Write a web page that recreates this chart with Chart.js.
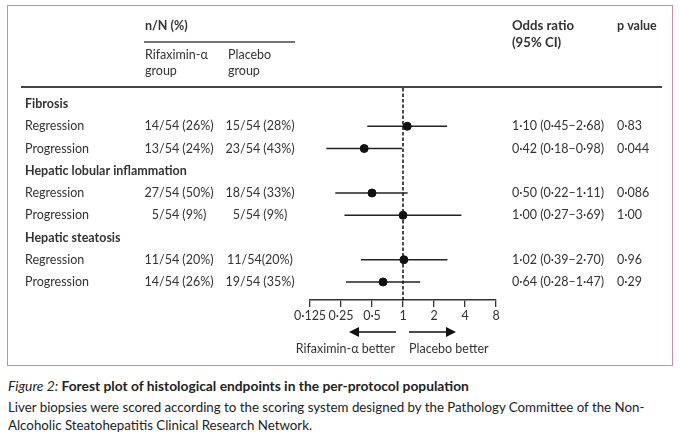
<!DOCTYPE html>
<html><head><meta charset="utf-8">
<script src="https://cdn.jsdelivr.net/npm/chart.js@4.4.0/dist/chart.umd.min.js"></script>
<style>
html,body{margin:0;padding:0;background:#fff;width:680px;height:437px;overflow:hidden;}
#frame{position:absolute;left:7px;top:5px;width:664px;height:359px;border:1.5px solid #c98ea4;box-sizing:content-box;}
#wrap{position:absolute;left:0;top:0;width:680px;height:370px;}
#cap{position:absolute;left:8px;top:377px;width:672px;font-family:Lato,sans-serif;font-size:13.3px;line-height:18px;color:#222;white-space:nowrap;}
#cap .t{font-size:13.8px;font-weight:700;margin-bottom:3px;}
#cap .t i{font-weight:400;}
</style></head><body>
<div id="frame"></div>
<div id="wrap"><canvas id="c"></canvas></div>
<div id="cap"><div class="t"><i>Figure 2:</i> Forest plot of histological endpoints in the per-protocol population</div>Liver biopsies were scored according to the scoring system designed by the Pathology Committee of the Non-<br>Alcoholic Steatohepatitis Clinical Research Network.</div>
<script>
// ---- data ----
const rowLabels = ['Fibrosis','Regression','Progression','Hepatic lobular inflammation','Regression','Progression','Hepatic steatosis','Regression','Progression'];
const isHeading = [true,false,false,true,false,false,true,false,false];
const rifaximinGroup = ['','14/54 (26%)','13/54 (24%)','','27/54 (50%)','5/54 (9%)','','11/54 (20%)','14/54 (26%)'];
const placeboGroup = ['','15/54 (28%)','23/54 (43%)','','18/54 (33%)','5/54 (9%)','','11/54(20%)','19/54 (35%)'];
const oddsRatio = [null,1.10,0.42,null,0.50,1.00,null,1.02,0.64];
const ciLow = [null,0.45,0.18,null,0.22,0.27,null,0.39,0.28];
const ciHigh = [null,2.68,0.98,null,1.11,3.69,null,2.70,1.47];
const pValues = ['','0·83','0·044','','0·086','1·00','','0·96','0·29'];
const tickValues = [0.125,0.25,0.5,1,2,4,8];
const tickLabels = ['0·125','0·25','0·5','1','2','4','8'];

const fmt = v => v.toFixed(2).replace('.', '·');
const FONT = 'Lato, sans-serif';
const TXT = '#333';

const points = [];
oddsRatio.forEach((v,i)=>{ if(v!==null) points.push({x:v,y:i}); });

const tablePlugin = {
  id:'table',
  beforeDatasetsDraw(chart){
    const ctx = chart.ctx, xs = chart.scales.x, ys = chart.scales.y;
    const x1 = xs.getPixelForValue(1);
    ctx.save();
    // header rules
    ctx.strokeStyle = '#444';
    ctx.lineWidth = 1.3;
    ctx.beginPath(); ctx.moveTo(144,42); ctx.lineTo(295,42); ctx.stroke();
    ctx.lineWidth = 2;
    ctx.beginPath(); ctx.moveTo(21,87); ctx.lineTo(662,87); ctx.stroke();
    // reference dashed line
    ctx.strokeStyle = '#111';
    ctx.lineWidth = 1.5;
    ctx.setLineDash([3.5,2]);
    ctx.beginPath(); ctx.moveTo(x1, 88); ctx.lineTo(x1, chart.chartArea.bottom); ctx.stroke();
    ctx.setLineDash([]);
    // CI lines
    ctx.strokeStyle = '#222';
    ctx.lineWidth = 1.4;
    oddsRatio.forEach((v,i)=>{
      if(v===null) return;
      const y = ys.getPixelForValue(i);
      ctx.beginPath();
      ctx.moveTo(xs.getPixelForValue(ciLow[i]), y);
      ctx.lineTo(xs.getPixelForValue(ciHigh[i]), y);
      ctx.stroke();
    });
    // header text
    ctx.fillStyle = TXT;
    ctx.textBaseline = 'middle';
    ctx.textAlign = 'left';
    ctx.font = '700 12.5px ' + FONT;
    ctx.fillText('n/N (%)', 145, 26);
    ctx.font = '700 13.2px ' + FONT;
    ctx.fillText('Odds ratio', 512, 26);
    ctx.fillText('(95% CI)', 512, 43);
    ctx.font = '700 12.5px ' + FONT;
    ctx.fillText('p value', 617, 26);
    ctx.font = '400 12.5px ' + FONT;
    ctx.fillText('Rifaximin-α', 145, 55);
    ctx.fillText('group', 145, 71);
    ctx.fillText('Placebo', 228, 55);
    ctx.fillText('group', 228, 71);
    // rows
    rowLabels.forEach((lab,i)=>{
      const y = ys.getPixelForValue(i);
      ctx.textAlign = 'left';
      ctx.font = (isHeading[i] ? '700 ' : '400 ') + '12.5px ' + FONT;
      ctx.fillText(lab, 25, y);
      if(isHeading[i]) return;
      ctx.font = '400 12.5px ' + FONT;
      ctx.textAlign = 'center';
      ctx.fillText(rifaximinGroup[i], 179, y);
      ctx.fillText(placeboGroup[i], 260, y);
      ctx.textAlign = 'left';
      ctx.fillText(fmt(oddsRatio[i]) + ' (' + fmt(ciLow[i]) + '–' + fmt(ciHigh[i]) + ')', 512, y);
      ctx.fillText(pValues[i], 617, y);
    });
    // direction arrows
    const ay = 332;
    ctx.fillStyle = '#111'; ctx.strokeStyle = '#111'; ctx.lineWidth = 1.6;
    const arrow = (from, to) => {
      const d = Math.sign(to - from);
      ctx.beginPath(); ctx.moveTo(from, ay); ctx.lineTo(to - d*8, ay); ctx.stroke();
      ctx.beginPath(); ctx.moveTo(to, ay); ctx.lineTo(to - d*10, ay-5); ctx.lineTo(to - d*10, ay+5); ctx.closePath(); ctx.fill();
    };
    arrow(x1 - 7, x1 - 54);
    arrow(x1 + 6, x1 + 53);
    ctx.fillStyle = TXT;
    ctx.font = '400 12.5px ' + FONT;
    ctx.textAlign = 'right';
    ctx.fillText('Rifaximin-α better', x1 - 8, 349);
    ctx.textAlign = 'left';
    ctx.fillText('Placebo better', x1 + 6, 349);
    ctx.restore();
  }
};

new Chart(document.getElementById('c'), {
  type:'scatter',
  data:{ datasets:[{ data: points, backgroundColor:'#111', borderColor:'#111', pointRadius:4, pointHoverRadius:4 }] },
  options:{
    responsive:true, maintainAspectRatio:false, animation:false,
    layout:{ padding:{ left:310, right:184, top:88, bottom:40 } },
    plugins:{ legend:{display:false}, tooltip:{enabled:false} },
    scales:{
      x:{
        type:'logarithmic', min:0.125, max:8,
        afterBuildTicks: s => { s.ticks = tickValues.map(v=>({value:v})); },
        afterFit: s => { s.height = 30; },
        ticks:{ autoSkip:false, maxRotation:0, padding:1, color:TXT, font:{family:FONT,size:12.5},
          callback: v => { const k = tickValues.indexOf(v); return k>=0 ? tickLabels[k] : ''; } },
        grid:{ display:true, drawOnChartArea:false, drawTicks:true, tickLength:7, color:'#333', lineWidth:1.3 },
        border:{ display:true, color:'#333', width:1.5 }
      },
      y:{ type:'linear', display:false, min:-0.72, max:8.81, reverse:true }
    }
  },
  plugins:[tablePlugin]
});
</script>
</body></html>
